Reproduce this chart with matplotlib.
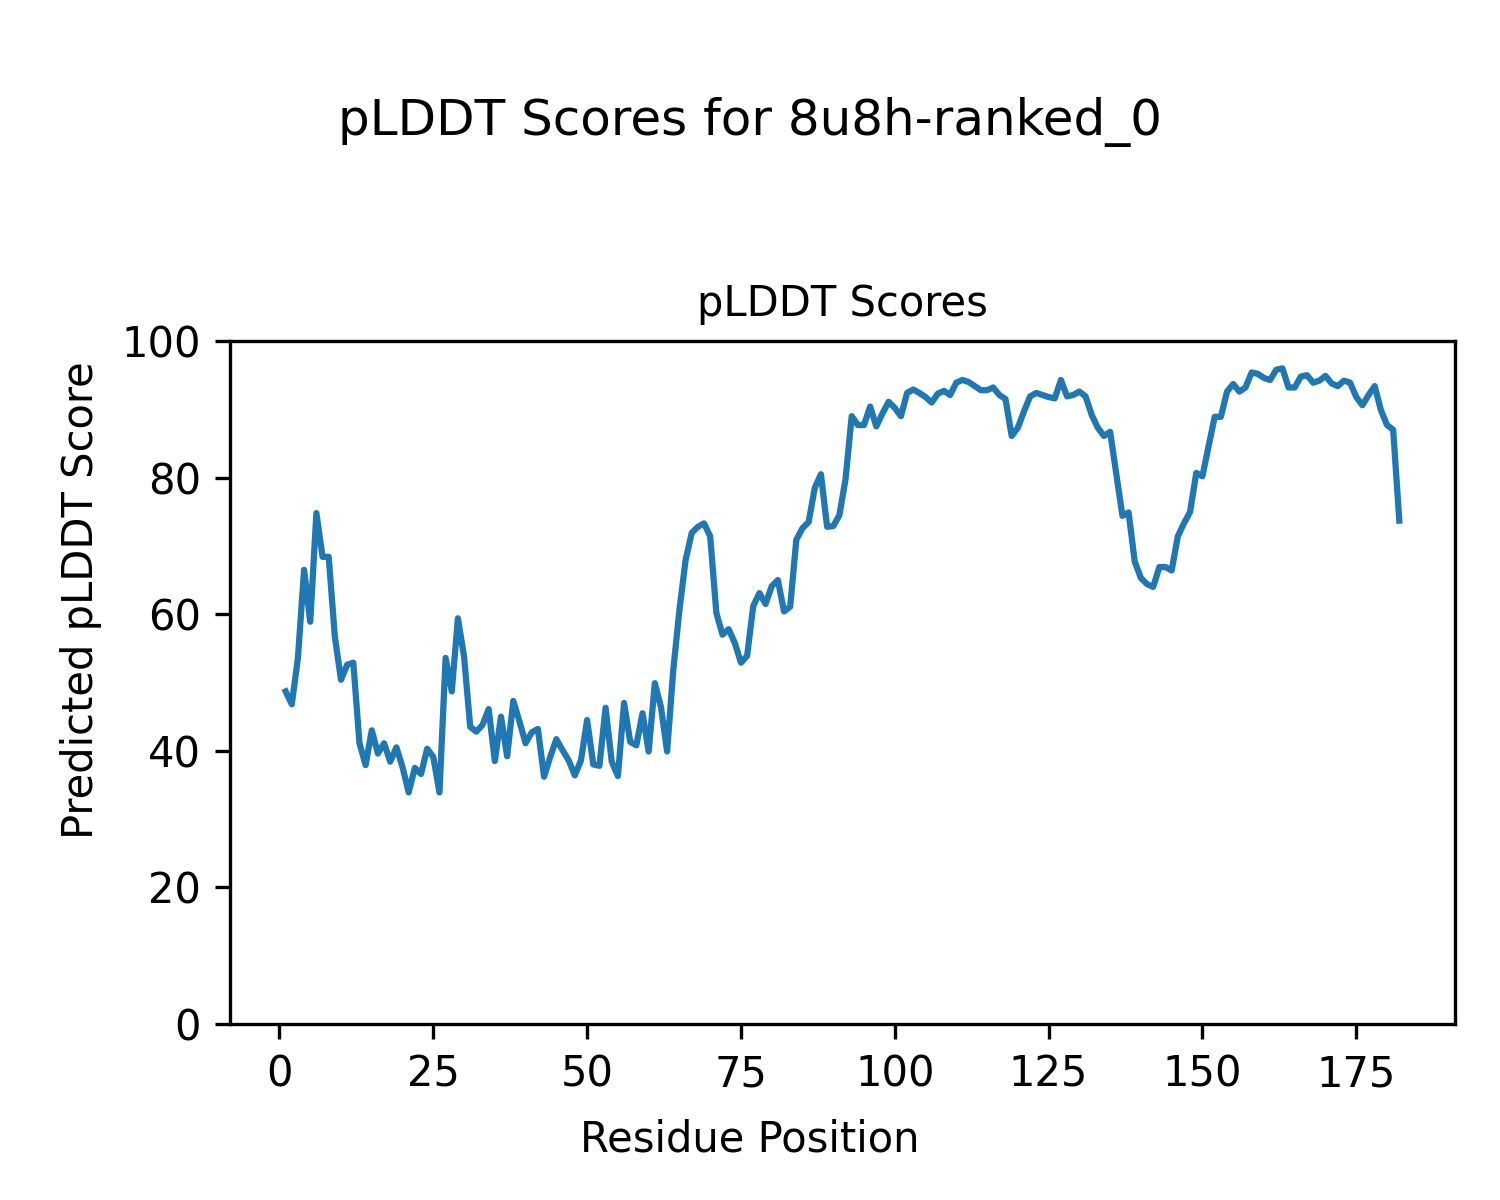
import matplotlib
matplotlib.use("Agg")
import matplotlib.pyplot as plt
import numpy as np

title = "pLDDT Scores for 8u8h-ranked_0"
subtitle = "pLDDT Scores"
xlabel = "Residue Position"
ylabel = "Predicted pLDDT Score"

plddt = [
    48.7, 46.8, 53.6, 66.5, 58.9, 74.8, 68.4, 68.4, 56.7, 50.4,
    52.6, 52.9, 41.1, 37.9, 43.0, 39.6, 41.1, 38.4, 40.5, 37.6,
    33.9, 37.5, 36.6, 40.3, 39.1, 33.9, 53.6, 48.7, 59.4, 53.8,
    43.5, 42.8, 43.8, 46.1, 38.5, 45.0, 39.2, 47.3, 44.3, 41.1,
    42.7, 43.2, 36.2, 39.1, 41.7, 40.1, 38.6, 36.4, 38.6, 44.5,
    38.0, 37.8, 46.3, 38.4, 36.3, 47.0, 41.3, 40.8, 45.5, 39.9,
    49.9, 46.4, 39.9, 51.8, 60.6, 67.9, 71.9, 72.8, 73.3, 71.4,
    60.2, 57.0, 57.8, 55.8, 52.9, 53.9, 61.2, 63.1, 61.5, 64.1,
    65.0, 60.4, 61.1, 70.9, 72.6, 73.5, 78.5, 80.5, 72.8, 72.9,
    74.5, 79.8, 89.0, 87.7, 87.7, 90.4, 87.5, 89.4, 91.1, 90.2,
    89.0, 92.4, 92.9, 92.4, 91.8, 91.0, 92.3, 92.7, 92.1, 93.9,
    94.3, 94.0, 93.4, 92.8, 92.8, 93.2, 92.1, 91.5, 86.1, 87.3,
    89.7, 91.9, 92.4, 92.1, 91.8, 91.6, 94.3, 91.9, 92.1, 92.6,
    91.9, 89.2, 87.3, 86.1, 86.7, 80.6, 74.4, 74.9, 67.7, 65.3,
    64.4, 64.0, 66.9, 66.9, 66.4, 71.4, 73.3, 75.0, 80.7, 80.2,
    84.6, 88.9, 88.9, 92.6, 93.7, 92.6, 93.2, 95.4, 95.2, 94.6,
    94.3, 95.8, 96.0, 93.2, 93.2, 94.8, 95.0, 93.9, 94.2, 94.9,
    93.8, 93.4, 94.2, 93.9, 91.8, 90.6, 92.1, 93.4, 89.9, 87.7,
    87.0, 73.7,
]
residues = np.arange(1, len(plddt) + 1)

fig = plt.figure(figsize=(5, 4), dpi=300)
ax = fig.add_axes([0.1533, 0.1467, 0.8167, 0.5691])
ax.plot(residues, plddt, color="#1f77b4", linewidth=1.5)
ax.set_ylim(0, 100)
ax.set_yticks([0, 20, 40, 60, 80, 100])
ax.set_xticks([0, 25, 50, 75, 100, 125, 150, 175])
ax.set_title(subtitle, fontsize=10)
fig.text(0.5, 0.04, xlabel, ha="center", fontsize=10)
fig.text(0.04, 0.5, ylabel, va="center", rotation="vertical", fontsize=10)
fig.suptitle(title, fontsize=12, y=1 - 135 / 1200, va="baseline")

fig.savefig("out.png", dpi=300)
